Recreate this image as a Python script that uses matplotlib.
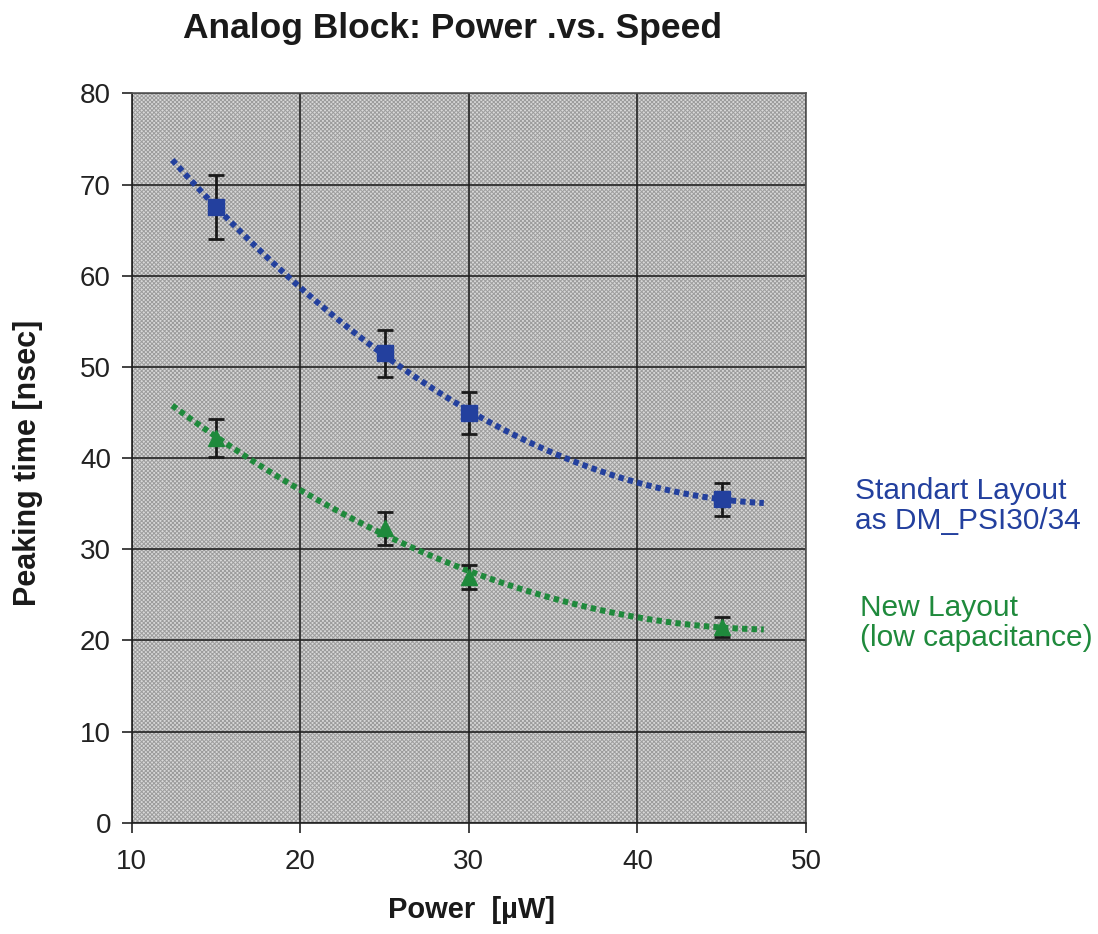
import matplotlib.pyplot as plt
from matplotlib.patches import Rectangle
import numpy as np

plt.rcParams['font.family'] = ['Liberation Sans', 'DejaVu Sans']
plt.rcParams['hatch.linewidth'] = 0.7

# measured points (power in uW, peaking time in ns)
power = [15, 25, 30, 45]
std_time = [67.5, 51.5, 45.0, 35.5]
std_err = [3.5, 2.6, 2.3, 1.8]
new_time = [42.2, 32.3, 27.0, 21.5]
new_err = [2.1, 1.8, 1.3, 1.1]

# range covered by the quadratic trend lines
trend_range = [12.4, 47.5]

x_ticks = [10, 20, 30, 40, 50]
y_ticks = [0, 10, 20, 30, 40, 50, 60, 70, 80]

blue = '#23409e'
green = '#1f8a3c'

fig = plt.figure(figsize=(10.98, 9.34), dpi=100)
ax = fig.add_axes([0.120, 0.119, 0.614, 0.781])
ax.set_facecolor('#d8d8d8')
# dotted screen texture of the original
ax.add_patch(Rectangle((0, 0), 1, 1, transform=ax.transAxes, facecolor='none',
                       edgecolor='#9c9c9c', linewidth=0, hatch='xxxxxxxx',
                       zorder=0.5))

xs = np.linspace(trend_range[0], trend_range[1], 200)
for y, err, col, mk, ms in [(std_time, std_err, blue, 's', 12),
                            (new_time, new_err, green, '^', 12)]:
    coef = np.polyfit(power, y, 2)
    ax.plot(xs, np.polyval(coef, xs), color=col, lw=4.3,
            linestyle=(0, (0.9, 0.7)), zorder=3)
    ax.errorbar(power, y, yerr=err, fmt='none', ecolor='#1a1a1a',
                elinewidth=2, capsize=6, capthick=2, zorder=4)
    ax.plot(power, y, linestyle='none', marker=mk, markersize=ms,
            color=col, zorder=5)

ax.set_xlim(10, 50)
ax.set_ylim(0, 80)
ax.set_xticks(x_ticks)
ax.set_yticks(y_ticks)
ax.grid(True, color='#222222', linewidth=1.2, zorder=1)
for s in ax.spines.values():
    s.set_color('#555555')
    s.set_linewidth(1.2)
ax.spines['left'].set_color('#222222')
ax.spines['bottom'].set_color('#222222')
ax.tick_params(axis='both', labelsize=20, length=7, width=1.2,
               color='#222222', labelcolor='#222222')
ax.tick_params(axis='x', pad=12)
ax.tick_params(axis='y', pad=8)

fig.text(0.4117, 0.970, 'Analog Block: Power .vs. Speed', ha='center',
         va='center', fontsize=25.5, fontweight='bold', color='#1a1a1a')
fig.text(0.429, 0.026, 'Power  [\u00b5W]', ha='center', va='center',
         fontsize=21, fontweight='bold', color='#1a1a1a')
fig.text(0.0255, 0.504, 'Peaking time [nsec]', ha='center', va='center',
         rotation=90, fontsize=22, fontweight='bold', color='#1a1a1a')

fig.text(0.779, 0.458, 'Standart Layout\nas DM_PSI30/34', fontsize=21.5,
         color=blue, ha='left', va='center', linespacing=1.1)
fig.text(0.783, 0.333, 'New Layout\n(low capacitance)', fontsize=21.5,
         color=green, ha='left', va='center', linespacing=1.1)

fig.savefig('out.png', dpi=100)
